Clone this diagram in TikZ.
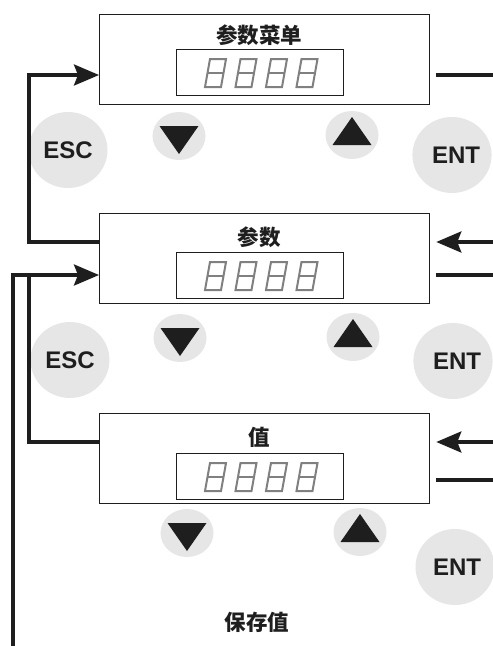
\documentclass[tikz,border=0pt]{standalone}
\usepackage{fontspec}
\setmainfont{Liberation Sans}
\newfontfamily\cjk{Noto Sans CJK SC}
\usetikzlibrary{arrows.meta,shapes.geometric}
\definecolor{keygray}{HTML}{E6E6E6}
\definecolor{ink}{HTML}{1E1E1E}
\definecolor{seggray}{HTML}{808080}
\begin{document}
\begin{tikzpicture}[x=1pt,y=-1pt,
  panel/.style={draw=ink, line width=1.3pt, minimum width=330pt, minimum height=90pt, inner sep=0pt, anchor=north west},
  display/.style={draw=ink, line width=1.3pt, minimum width=167pt, minimum height=46pt, inner sep=0pt, anchor=north west},
  bigkey/.style={ellipse, fill=keygray, inner sep=0pt, minimum width=79pt, minimum height=76pt, font=\fontsize{24}{24}\selectfont\bfseries, text=ink},
  arrowkey/.style={ellipse, fill=keygray, inner sep=0pt, minimum width=53pt, minimum height=48pt},
  title/.style={font=\cjk\bfseries\fontsize{21.5}{21.5}\selectfont, text=ink, inner sep=0pt},
  conn/.style={line width=3.3pt, draw=ink, line join=miter},
  tipin/.style={-{Stealth[length=25pt,width=21pt,inset=4pt]}},
  segdigit/.style={draw=seggray, line width=2pt, line join=miter}
]
\useasboundingbox (0,0) rectangle (493,646);

% panels
\node[panel] (box1) at (99,14) {};
\node[panel] (box2) at (99,213) {};
\node[panel] (box3) at (99,413) {};

% displays
\node[display] (disp1) at (176,49) {};
\node[display] (disp2) at (176,252) {};
\node[display] (disp3) at (176,453) {};
\foreach \yb in {87,290,491}{
  \foreach \i in {0,1,2,3}{
    \begin{scope}[shift={({205+30.5*\i},\yb)}]
      \draw[segdigit] (0,0) -- (16,0) -- (21,-28) -- (5,-28) -- cycle;
      \draw[segdigit] (2.5,-14) -- (18.5,-14);
    \end{scope}
  }
}

% titles
\node[title] (t1) at (259,35) {参数菜单};
\node[title] (t2) at (259,237) {参数};
\node[title] (t3) at (259,437) {值};
\node[title] (save) at (257,622) {保存值};

% keys
\node[bigkey] (esc1) at (68,150) {ESC};
\node[bigkey] (esc2) at (70,360) {ESC};
\node[bigkey] (ent1) at (452,155) {\hspace{8pt}ENT};
\node[bigkey] (ent2) at (453,361) {\hspace{8pt}ENT};
\node[bigkey] (ent3) at (455,567) {\hspace{4pt}ENT};

\node[arrowkey] (dn1) at (179,136) {};
\node[arrowkey] (up1) at (352,135) {};
\node[arrowkey] (dn2) at (180,338) {};
\node[arrowkey] (up2) at (353,337) {};
\node[arrowkey] (dn3) at (187,533) {};
\node[arrowkey] (up3) at (360,532) {};
\foreach \k in {dn1,dn2,dn3}{
  \fill[ink, shift={(\k.center)}] (-19.5,-10) -- (19.5,-10) -- (0,18) -- cycle;
}
\foreach \k in {up1,up2,up3}{
  \fill[ink, shift={(\k.center)}] (-19.5,10) -- (19.5,10) -- (0,-18) -- cycle;
}

% bends and free ends
\coordinate (bendA) at (29,242);
\coordinate (bendB) at (29,442);
\coordinate (bendC) at (29,275);
\coordinate (savebot) at (13,648);
\coordinate (r1) at (495,75);
\coordinate (r2) at (495,242);
\coordinate (r3) at (495,275);
\coordinate (r4) at (495,442);
\coordinate (r5) at (495,480);

% left connectors
\draw[conn,tipin] ([yshift=-29pt]box2.north west) -- (bendA) |- ([yshift=-61pt]box1.north west);
\draw[conn,tipin] ([yshift=-29pt]box3.north west) -- (bendB) |- ([yshift=-62pt]box2.north west);
\draw[conn] (savebot) |- (bendC);

% right connectors
\draw[conn] ([xshift=6pt,yshift=-61pt]box1.north east) -- (r1);
\draw[conn,tipin] (r2) -- ([xshift=6pt,yshift=-29pt]box2.north east);
\draw[conn] ([xshift=6pt,yshift=-62pt]box2.north east) -- (r3);
\draw[conn,tipin] (r4) -- ([xshift=6pt,yshift=-29pt]box3.north east);
\draw[conn] ([xshift=6pt,yshift=-67pt]box3.north east) -- (r5);
\end{tikzpicture}
\end{document}
